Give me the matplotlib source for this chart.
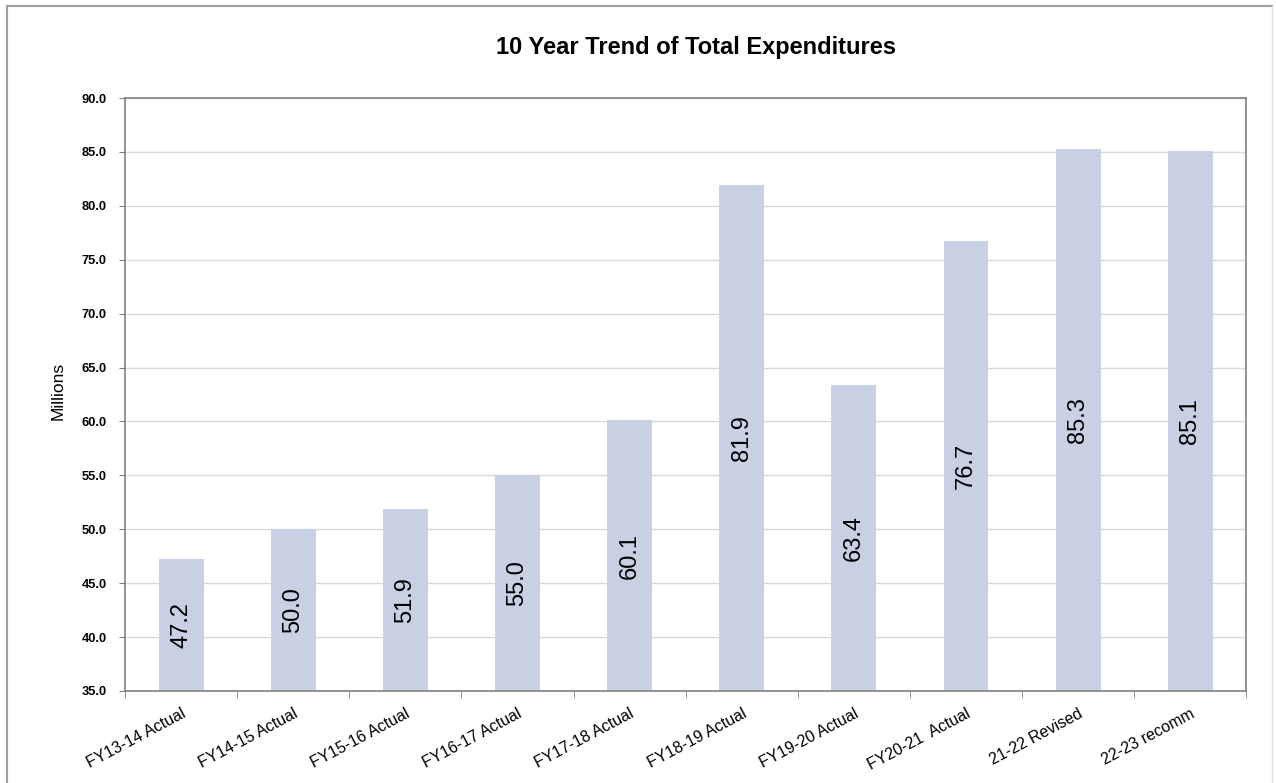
import numpy as np
import matplotlib.pyplot as plt
from matplotlib.lines import Line2D

# Total expenditures in millions
categories = ["FY13-14 Actual", "FY14-15 Actual", "FY15-16 Actual", "FY16-17 Actual",
              "FY17-18 Actual", "FY18-19 Actual", "FY19-20 Actual", "FY20-21  Actual",
              "21-22 Revised", "22-23 recomm"]
values = [47.2, 50.0, 51.9, 55.0, 60.1, 81.9, 63.4, 76.7, 85.3, 85.1]
y_ticks = [35.0, 40.0, 45.0, 50.0, 55.0, 60.0, 65.0, 70.0, 75.0, 80.0, 85.0, 90.0]

plt.rcParams['font.family'] = ['Liberation Sans', 'DejaVu Sans']

fig = plt.figure(figsize=(12.76, 7.83), dpi=100)
ax = fig.add_axes([0.098, 0.1175, 0.8787, 0.7573])

x = np.arange(len(categories))
base = y_ticks[0]
bars = ax.bar(x, np.array(values) - base, bottom=base, width=0.4,
              color="#C8D0E3", zorder=2)

for xi, v in zip(x, values):
    ax.text(xi, (base + v) / 2, f"{v:.1f}", rotation=90, ha="center", va="center",
            fontsize=17, color="black", zorder=3)

ax.set_xlim(-0.5, len(categories) - 0.5)
ax.set_ylim(y_ticks[0], y_ticks[-1])
ax.set_yticks(y_ticks)
ax.set_yticklabels([f"{t:.1f}" for t in y_ticks], fontsize=9.3, fontweight="bold")
ax.yaxis.grid(True, color="#D9D9D9", linewidth=1, zorder=0)
ax.set_axisbelow(True)

ax.set_xticks(x)
ax.set_xticklabels(categories, rotation=28, ha="right", rotation_mode="anchor", fontsize=11.5)
ax.tick_params(axis="x", which="major", length=0, pad=11)
ax.set_xticks(np.arange(-0.5, len(categories), 1), minor=True)
ax.tick_params(axis="x", which="minor", length=5, color="#808080", direction="out")
ax.tick_params(axis="y", length=4, color="#808080", direction="out", pad=9)

for s in ax.spines.values():
    s.set_color("#808080")
    s.set_linewidth(1.2)

fig.text(58 / 1276, 1 - 391 / 783, "Millions", rotation=90, ha="center", va="center",
         fontsize=12.5)
fig.text(0.5455, 0.9387, "10 Year Trend of Total Expenditures", ha="center", va="center",
         fontsize=17, fontweight="bold")

# outer chart frame
fig.add_artist(Line2D([0.0055, 0.0055], [0.0, 0.9925], color="#A0A0A0", linewidth=1.5))
fig.add_artist(Line2D([0.0055, 0.997], [0.9925, 0.9925], color="#A0A0A0", linewidth=1.5))
fig.add_artist(Line2D([0.997, 0.997], [0.0, 0.9925], color="#E0E0E0", linewidth=1.0))

fig.savefig("out.png", dpi=100)
